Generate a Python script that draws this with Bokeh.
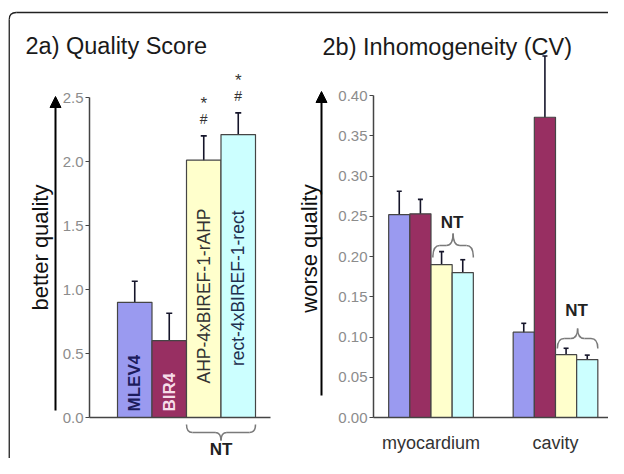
import math
from bokeh.plotting import figure
from bokeh.models import (Range1d, LinearAxis, FixedTicker, NumeralTickFormatter,
                          ColumnDataSource, Whisker, TeeHead, Arrow, NormalHead)
from bokeh.core.properties import value
from bokeh.embed import file_html
from bokeh.resources import INLINE

# ------------------------------------------------------------------ data
methods = ["MLEV4", "BIR4", "AHP-4xBIREF-1-rAHP", "rect-4xBIREF-1-rect"]
quality = [0.90, 0.60, 2.01, 2.21]
quality_err = [0.165, 0.215, 0.19, 0.17]
quality_ticks = [0.0, 0.5, 1.0, 1.5, 2.0, 2.5]
significance_hash = ["", "", "#", "#"]
significance_star = ["", "", "*", "*"]

regions = ["myocardium", "cavity"]
cv_myocardium = [0.252, 0.253, 0.190, 0.180]
cv_myocardium_err = [0.029, 0.018, 0.016, 0.016]
cv_cavity = [0.106, 0.373, 0.078, 0.072]
cv_cavity_err = [0.011, 0.076, 0.008, 0.0055]
cv_ticks = [0.00, 0.05, 0.10, 0.15, 0.20, 0.25, 0.30, 0.35, 0.40]

colors = ["#9a9af0", "#982f62", "#ffffcc", "#ccffff"]
label_colors = ["#1c1c5c", "#f6dde9", "#333333", "#1f3050"]

FONT = value("Liberation Sans")

# ------------------------------------------------------------------ layout (picture px -> data)
W, H = 608, 458
PAGE_L, PAGE_T = 0, 0
BASE = 417.0          # picture y of the zero line (both panels)

L_PX, L_REF = 34.5, 134.25   # left panel: px per unit, x of bar 1
R_PX, R_REF = 124.5, 430.5   # right panel: px per unit, x of group 1
LY_PX, RY_PX = 128.0, 805.0

def lx(px): return 1 + (px - L_REF) / L_PX
def ly(py): return (BASE - py) / LY_PX
def rx(px): return 1 + (px - R_REF) / R_PX
def ry(py): return (BASE - py) / RY_PX

p = figure(width=W, height=H, output_backend="svg", toolbar_location=None,
           x_axis_location=None, y_axis_location=None, title=None,
           x_range=Range1d(lx(PAGE_L), lx(PAGE_L + W)),
           y_range=Range1d(ly(PAGE_T + H), ly(PAGE_T)),
           min_border=0)
p.extra_x_ranges = {"r": Range1d(rx(PAGE_L), rx(PAGE_L + W))}
p.extra_y_ranges = {"r": Range1d(ry(PAGE_T + H), ry(PAGE_T))}
p.outline_line_color = None
p.background_fill_color = "white"
p.border_fill_color = "white"
p.xgrid.grid_line_color = None
p.ygrid.grid_line_color = None

def style_axis(ax):
    ax.axis_line_color = "#444444"
    ax.axis_line_width = 1.5
    ax.major_tick_line_color = "#444444"
    ax.major_tick_line_width = 1.2
    ax.major_tick_out = 4
    ax.major_tick_in = 0
    ax.minor_tick_out = 0
    ax.minor_tick_in = 0
    ax.major_label_text_color = "#8c8c8c"
    ax.major_label_text_font = "Liberation Sans"
    ax.major_label_text_font_size = "15px"
    ax.major_label_standoff = 2

# ------------------------------------------------------------------ frame line
frame_col = "#222222"
p.line(x=[lx(8.75), lx(8.75)], y=[ly(480), ly(19)], line_color=frame_col, line_width=1.3)
p.quadratic(x0=[lx(8.75)], y0=[ly(19)], x1=[lx(15.75)], y1=[ly(12)],
            cx=[lx(8.75)], cy=[ly(12)], line_color=frame_col, line_width=1.3)
p.line(x=[lx(15.75), lx(612)], y=[ly(12), ly(12)], line_color=frame_col, line_width=1.3)

# ------------------------------------------------------------------ brace helper
def brace(xa, xb, y_end, y_mid, y_tip, r, **kw):
    xc = (xa + xb) / 2
    p.quadratic(x0=[xa, xc - r, xc, xb - r],
                y0=[y_end, y_mid, y_tip, y_mid],
                x1=[xa + r, xc, xc + r, xb],
                y1=[y_mid, y_tip, y_mid, y_end],
                cx=[xa, xc, xc, xb],
                cy=[y_mid, y_mid, y_mid, y_mid],
                line_color="#7a7a7a", line_width=1.5, **kw)
    p.segment(x0=[xa + r, xc + r], y0=[y_mid, y_mid], x1=[xc - r, xb - r], y1=[y_mid, y_mid],
              line_color="#7a7a7a", line_width=1.5, **kw)

# ================================================================== panel a
xa_pos = list(range(1, len(methods) + 1))
src_a = ColumnDataSource(dict(x=xa_pos, top=quality, color=colors,
                              upper=[v + e for v, e in zip(quality, quality_err)],
                              lower=[v - e for v, e in zip(quality, quality_err)],
                              label=methods, lcolor=label_colors,
                              hash=significance_hash, star=significance_star))
p.vbar(x="x", top="top", width=1.0, bottom=0, fill_color="color",
       line_color="#454545", line_width=1.2, source=src_a)
p.add_layout(Whisker(base="x", upper="upper", lower="lower", source=src_a,
                     line_color="#15152a", line_width=1.6,
                     upper_head=TeeHead(size=6, line_color="#15152a", line_width=1.6),
                     lower_head=TeeHead(size=6, line_color="#15152a", line_width=1.6)))

ax_ay = LinearAxis(fixed_location=lx(89), bounds=(quality_ticks[0], quality_ticks[-1]),
                   ticker=FixedTicker(ticks=quality_ticks),
                   formatter=NumeralTickFormatter(format="0.0"))
style_axis(ax_ay)
p.add_layout(ax_ay, "left")
ax_ax = LinearAxis(fixed_location=0, bounds=(lx(89), lx(270)),
                   ticker=FixedTicker(ticks=[]))
style_axis(ax_ax)
ax_ax.major_tick_out = 0
p.add_layout(ax_ax, "below")

# labels inside bars
p.text(x=[xa_pos[0], xa_pos[1]], y=[ly(411), ly(411)], text=methods[:2],
       text_color=label_colors[:2], angle=math.pi / 2, text_align="left",
       text_baseline="middle", text_font=FONT, text_font_size=value("17px"),
       text_font_style="bold")
p.text(x=[xa_pos[2], xa_pos[3]], y=[ly(208), ly(210)], text=methods[2:],
       text_color=label_colors[2:], angle=math.pi / 2, text_align="right",
       text_baseline="middle", text_font=FONT, text_font_size=value("17.5px"))

# significance marks
upper_a = src_a.data["upper"]
p.text(x=xa_pos, y=[u + 17 / LY_PX for u in upper_a], text=significance_hash,
       text_align="center", text_baseline="middle", text_color="#333333",
       text_font=FONT, text_font_size=value("14px"))
p.text(x=xa_pos, y=[u + 32 / LY_PX for u in upper_a], text=significance_star,
       text_align="center", text_baseline="middle", text_color="#333333",
       text_font=FONT, text_font_size=value("17px"))

# NT brace under AHP/rect bars
brace(xa_pos[2] - 0.5, xa_pos[3] + 0.5, ly(424), ly(432), ly(440), 0.17)
p.text(x=[(xa_pos[2] + xa_pos[3]) / 2], y=[ly(449)], text=["NT"], text_align="center",
       text_baseline="middle", text_color="#222222", text_font=FONT,
       text_font_size=value("17px"), text_font_style="bold")

# arrow + axis label + title
p.add_layout(Arrow(end=NormalHead(size=11, fill_color="black", line_color="black"),
                   x_start=lx(55), y_start=ly(410), x_end=lx(55), y_end=ly(96),
                   line_width=2, line_color="black"))
p.text(x=[lx(40)], y=[ly(247)], text=["better quality"], angle=math.pi / 2,
       text_align="center", text_baseline="middle", text_color="#111111",
       text_font=FONT, text_font_size=value("22px"))
p.text(x=[lx(25)], y=[ly(45)], text=["2a) Quality Score"], text_align="left",
       text_baseline="alphabetic", text_color="#1a1a1a", text_font=FONT,
       text_font_size=value("23.5px"))

# ================================================================== panel b
BW = 0.17
group_pos = list(range(1, len(regions) + 1))
xb, topb, errb, colb = [], [], [], []
for g, vals, errs in zip(group_pos, [cv_myocardium, cv_cavity],
                         [cv_myocardium_err, cv_cavity_err]):
    for s, (v, e) in enumerate(zip(vals, errs)):
        xb.append(g + (s - 1.5) * BW)
        topb.append(v)
        errb.append(e)
        colb.append(colors[s])
src_b = ColumnDataSource(dict(x=xb, top=topb, color=colb,
                              upper=[v + e for v, e in zip(topb, errb)],
                              lower=[v - e for v, e in zip(topb, errb)]))
p.vbar(x="x", top="top", width=BW, bottom=0, fill_color="color",
       line_color="#454545", line_width=1.2, source=src_b,
       x_range_name="r", y_range_name="r")
p.add_layout(Whisker(base="x", upper="upper", lower="lower", source=src_b,
                     x_range_name="r", y_range_name="r",
                     line_color="#15152a", line_width=1.6,
                     upper_head=TeeHead(size=5, line_color="#15152a", line_width=1.6),
                     lower_head=TeeHead(size=5, line_color="#15152a", line_width=1.6)))

ax_by = LinearAxis(x_range_name="r", y_range_name="r", fixed_location=rx(373),
                   bounds=(cv_ticks[0], cv_ticks[-1]), ticker=FixedTicker(ticks=cv_ticks),
                   formatter=NumeralTickFormatter(format="0.00"))
style_axis(ax_by)
p.add_layout(ax_by, "left")
ax_bx = LinearAxis(x_range_name="r", y_range_name="r", fixed_location=0,
                   bounds=(rx(373), rx(613)), ticker=FixedTicker(ticks=group_pos),
                   major_label_overrides=dict(zip(group_pos, regions)))
style_axis(ax_bx)
ax_bx.major_tick_out = 0
ax_bx.major_label_text_color = "#333333"
ax_bx.major_label_text_font_size = "18px"
ax_bx.major_label_standoff = 15
p.add_layout(ax_bx, "below")

# NT braces over AHP/rect bars in each group
for g, y_end, y_mid, y_tip, y_txt in zip(group_pos, [257, 348], [245, 338], [233, 328],
                                         [222, 310]):
    xa0 = g + (2 - 1.5) * BW - BW / 2
    xa1 = g + (3 - 1.5) * BW + BW / 2
    brace(xa0 + 0.015, xa1, ry(y_end), ry(y_mid), ry(y_tip), 0.055,
          x_range_name="r", y_range_name="r")
    p.text(x=[(xa0 + xa1) / 2], y=[ry(y_txt)], text=["NT"], text_align="center",
           text_baseline="middle", text_color="#222222", text_font=FONT,
           text_font_size=value("17px"), text_font_style="bold",
           x_range_name="r", y_range_name="r")

p.add_layout(Arrow(end=NormalHead(size=11, fill_color="black", line_color="black"),
                   x_start=rx(321), y_start=ry(395), x_end=rx(321), y_end=ry(91),
                   line_width=2, line_color="black", x_range_name="r", y_range_name="r"))
p.text(x=[rx(309)], y=[ry(248)], text=["worse quality"], angle=math.pi / 2,
       text_align="center", text_baseline="middle", text_color="#111111",
       text_font=FONT, text_font_size=value("22px"), x_range_name="r", y_range_name="r")
p.text(x=[rx(322)], y=[ry(46)], text=["2b) Inhomogeneity (CV)"], text_align="left",
       text_baseline="alphabetic", text_color="#1a1a1a", text_font=FONT,
       text_font_size=value("23.5px"), x_range_name="r", y_range_name="r")

open("out.html", "w").write(file_html(p, INLINE))
